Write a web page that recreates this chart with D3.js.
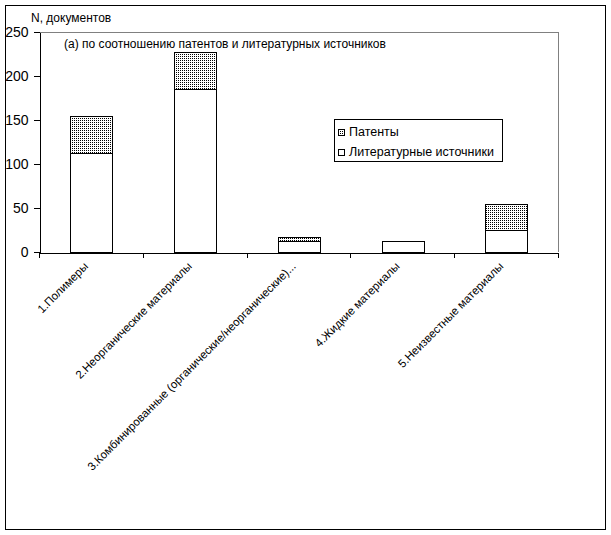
<!DOCTYPE html>
<html>
<head>
<meta charset="utf-8">
<title>N, документов</title>
<script src="https://d3js.org/d3.v7.min.js"></script>
<style>
  body { margin: 0; background: #fff; }
  text { font-family: "Liberation Sans", Arial, sans-serif; fill: #000; }
</style>
</head>
<body>
<div id="chart"></div>
<script>

var categories = [
  "1.Полимеры",
  "2.Неорганические материалы",
  "3.Комбинированные (органические/неорганические)...",
  "4.Жидкие материалы",
  "5.Неизвестные материалы"
];
var literature = [112, 185, 12, 13, 25];
var patents = [42, 42, 5, 0, 30];
var yTicks = [0, 50, 100, 150, 200, 250];
var seriesNames = ["Патенты", "Литературные источники"];

var W = 611, H = 535;
var plot = {left: 39, right: 558, top: 32, bottom: 252};

var svg = d3.select("#chart")
  .append("svg")
    .attr("width", W)
    .attr("height", H)
    .attr("shape-rendering", "crispEdges");

// dotted fill for patents
var defs = svg.append("defs");
var pat = defs.append("pattern")
    .attr("id", "dots")
    .attr("patternUnits", "userSpaceOnUse")
    .attr("width", 2)
    .attr("height", 2);
pat.append("rect").attr("width", 2).attr("height", 2).attr("fill", "#fff");
pat.append("rect").attr("width", 1).attr("height", 1).attr("fill", "#000");

// outer frame
svg.append("rect")
    .attr("x", 5.5).attr("y", 5.5)
    .attr("width", 600).attr("height", 524)
    .attr("fill", "none")
    .attr("stroke", "#000");

var rows = categories.map(function(c, i) {
  return {cat: c, lit: literature[i], pat: patents[i]};
});

var x = d3.scaleBand()
  .domain(categories)
  .range([plot.left, plot.right])
  .padding(0);

var y = d3.scaleLinear()
  .domain([0, 250])
  .range([plot.bottom, plot.top]);

var stack = d3.stack().keys(["lit", "pat"]);
var layers = stack(rows);

// plot area border (top and right)
svg.append("path")
    .attr("d", "M" + plot.left + "," + (plot.top + 0.5) + "H" + (plot.right + 0.5) + "V" + plot.bottom)
    .attr("fill", "none")
    .attr("stroke", "#808080");

var barW = x.bandwidth() * 0.4;

svg.selectAll("g.layer")
  .data(layers)
  .enter()
  .append("g")
    .attr("class", "layer")
    .attr("fill", function(d) { return d.key === "pat" ? "url(#dots)" : "#fff"; })
  .selectAll("rect")
  .data(function(d) { return d.filter(function(s) { return s[1] > s[0]; }); })
  .enter()
  .append("rect")
    .attr("x", function(d) { return Math.round(x(d.data.cat) + (x.bandwidth() - barW) / 2) + 0.5; })
    .attr("y", function(d) { return Math.round(y(d[1])) + 0.5; })
    .attr("width", Math.round(barW))
    .attr("height", function(d) { return Math.round(y(d[0])) - Math.round(y(d[1])); })
    .attr("stroke", "#000");

// y axis
var yAxis = svg.append("g")
    .attr("transform", "translate(" + (plot.left + 0.5) + ",0)")
    .call(d3.axisLeft(y).tickValues(yTicks).tickSize(6).tickSizeOuter(0).tickPadding(5));
yAxis.selectAll("text")
    .style("font-family", "Liberation Sans, Arial, sans-serif")
    .style("font-size", "14px");
yAxis.select(".domain").attr("stroke", "#000");

// x axis with ticks between categories
var xAxis = svg.append("g")
    .attr("transform", "translate(0," + (plot.bottom + 0.5) + ")")
    .call(d3.axisBottom(x).tickSize(0).tickSizeOuter(0).tickFormat(""));
xAxis.select(".domain").attr("stroke", "#000");

var bounds = categories.map(function(c) { return x(c); }).concat([plot.right]);
xAxis.selectAll("line.bound")
  .data(bounds)
  .enter()
  .append("line")
    .attr("class", "bound")
    .attr("x1", function(d) { return Math.round(d) + 0.5; })
    .attr("x2", function(d) { return Math.round(d) + 0.5; })
    .attr("y1", 0)
    .attr("y2", 5)
    .attr("stroke", "#000");

svg.selectAll("text.xlab")
  .data(categories)
  .enter()
  .append("text")
    .attr("class", "xlab")
    .attr("text-anchor", "end")
    .attr("transform", function(d) {
      return "translate(" + (x(d) + x.bandwidth() / 2 - 2) + "," + (plot.bottom + 15) + ") rotate(-45)";
    })
    .style("font-size", "11.5px")
    .text(function(d) { return d; });

// titles
svg.append("text")
    .attr("x", 31).attr("y", 22)
    .style("font-size", "12px")
    .text("N, документов");

svg.append("text")
    .attr("x", 64).attr("y", 48)
    .style("font-size", "12px")
    .text("(a) по соотношению патентов и литературных источников");

// legend
var legend = svg.append("g");
legend.append("rect")
    .attr("x", 334.5).attr("y", 119.5)
    .attr("width", 168).attr("height", 42)
    .attr("fill", "#fff")
    .attr("stroke", "#000");

var legItems = legend.selectAll("g.item")
  .data(seriesNames)
  .enter()
  .append("g")
    .attr("class", "item")
    .attr("transform", function(d, i) { return "translate(338," + (129 + i * 20) + ")"; });

legItems.append("rect")
    .attr("x", 0.5).attr("y", 0.5)
    .attr("width", 6).attr("height", 6)
    .attr("fill", function(d, i) { return i === 0 ? "url(#dots)" : "#fff"; })
    .attr("stroke", "#000");

legItems.append("text")
    .attr("x", 11).attr("y", 7)
    .style("font-size", "12.5px")
    .text(function(d) { return d; });

</script>
</body>
</html>
